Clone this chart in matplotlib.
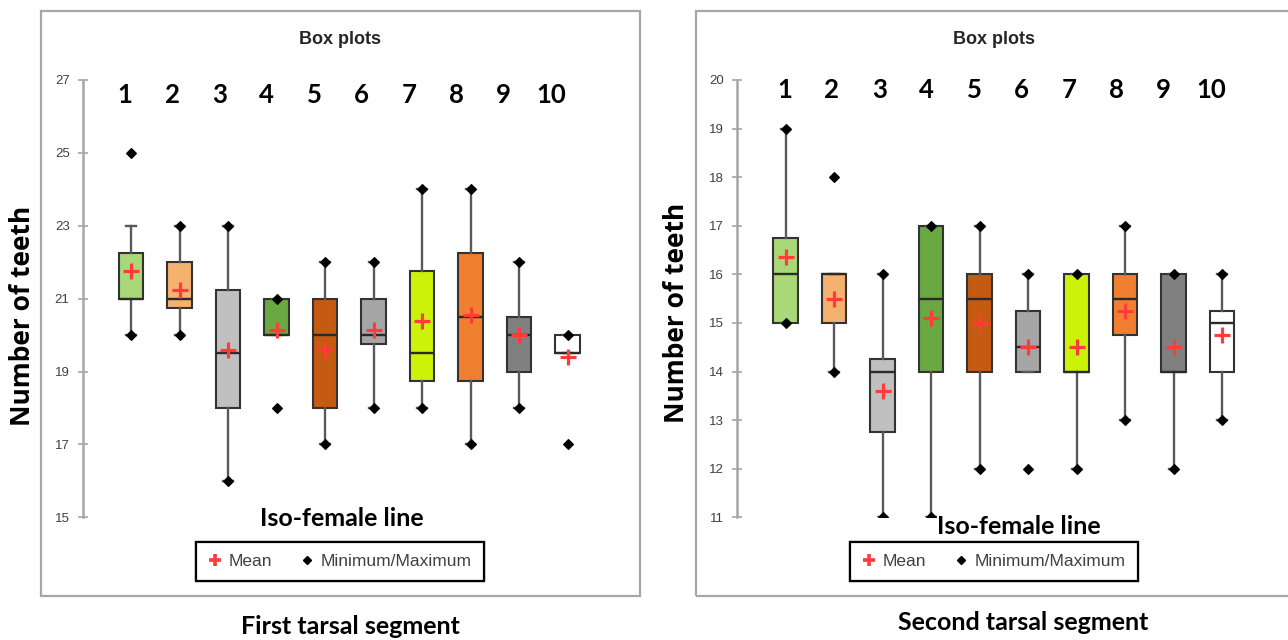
import matplotlib.pyplot as plt
from matplotlib.lines import Line2D
from matplotlib.patches import Rectangle
import matplotlib.transforms as mtransforms

# iso-female lines
lines = [1, 2, 3, 4, 5, 6, 7, 8, 9, 10]
colors = ['#a9d878', '#f5b16e', '#c0c0c0', '#6aa842', '#c55a11',
          '#a6a6a6', '#ccf20a', '#f08030', '#808080', '#ffffff']

# First tarsal segment
L_q1 = [21, 20.75, 18, 20, 18, 19.75, 18.75, 18.75, 19, 19.5]
L_med = [21, 21, 19.5, 20, 20, 20, 19.5, 20.5, 20, 19.5]
L_q3 = [22.25, 22, 21.25, 21, 21, 21, 21.75, 22.25, 20.5, 20]
L_mean = [21.75, 21.25, 19.6, 20.15, 19.6, 20.15, 20.4, 20.55, 20, 19.4]
L_whislo = [20, 20, 16, 20, 17, 18, 18, 17, 18, 19.5]
L_whishi = [23, 23, 23, 21, 22, 22, 24, 24, 22, 20]
L_min = [20, 20, 16, 18, 17, 18, 18, 17, 18, 17]
L_max = [25, 23, 23, 21, 22, 22, 24, 24, 22, 20]
L_ticks = [15, 17, 19, 21, 23, 25, 27]

# Second tarsal segment
R_q1 = [15, 15, 12.75, 14, 14, 14, 14, 14.75, 14, 14]
R_med = [16, 16, 14, 15.5, 15.5, 14.5, 14, 15.5, 14, 15]
R_q3 = [16.75, 16, 14.25, 17, 16, 15.25, 16, 16, 16, 15.25]
R_mean = [16.35, 15.5, 13.6, 15.1, 15.0, 14.5, 14.5, 15.25, 14.5, 14.75]
R_whislo = [15, 14, 11, 11, 12, 14, 12, 13, 12, 13]
R_whishi = [19, 16, 16, 17, 17, 16, 16, 17, 16, 16]
R_min = [15, 14, 11, 11, 12, 12, 12, 13, 12, 13]
R_max = [19, 18, 16, 17, 17, 16, 16, 17, 16, 16]
R_ticks = [11, 12, 13, 14, 15, 16, 17, 18, 19, 20]

ARIAL = ['Liberation Sans', 'DejaVu Sans']
CALIBRI = ['Lato', 'DejaVu Sans']
W, H = 1288, 640
UNIT = 48.5  # px per category

fig = plt.figure(figsize=(12.88, 6.4), dpi=100)


def fx(px):
    return px / W


def fy(py):
    return 1 - py / H


def panel(left_px, q1, med, q3, mean, wlo, whi, mn, mx, ticks,
          num_start, num_step, num_y):
    ax = fig.add_axes([fx(left_px), fy(517.3), fx(UNIT * 11.5), (517.3 - 80) / H])
    stats = []
    for i in range(len(lines)):
        stats.append(dict(q1=q1[i], med=med[i], q3=q3[i], mean=mean[i],
                          whislo=wlo[i], whishi=whi[i], fliers=[]))
    bp = ax.bxp(stats, positions=lines, widths=0.5, patch_artist=True,
                showmeans=True, showfliers=False, capwidths=0.2,
                boxprops=dict(edgecolor='#333333', linewidth=1.5),
                medianprops=dict(color='#2a2a2a', linewidth=1.7),
                whiskerprops=dict(color='#595959', linewidth=1.7),
                capprops=dict(color='#595959', linewidth=1.7),
                meanprops=dict(marker='+', markeredgecolor='#ff3b3b',
                               markersize=12, markeredgewidth=2.3))
    for patch, c in zip(bp['boxes'], colors):
        patch.set_facecolor(c)
    ax.scatter(lines, mn, marker='D', s=24, color='black', zorder=4)
    ax.scatter(lines, mx, marker='D', s=24, color='black', zorder=4)

    ax.set_xlim(0, 11.5)
    ax.set_ylim(ticks[0], ticks[-1])
    ax.set_yticks(ticks)
    ax.set_xticks([])
    for s in ['top', 'right', 'bottom']:
        ax.spines[s].set_visible(False)
    ax.spines['left'].set_color('#a6a6a6')
    ax.spines['left'].set_linewidth(1.8)
    ax.tick_params(axis='y', direction='inout', length=7.5, width=1.2,
                   color='#a6a6a6', labelsize=9.5, labelcolor='#404040', pad=5.5)
    for lab in ax.get_yticklabels():
        lab.set_family(ARIAL)
    ax.patch.set_alpha(0)

    trans = mtransforms.blended_transform_factory(ax.transData, fig.transFigure)
    for x in lines:
        ax.text(num_start + (x - 1) * num_step, fy(num_y), str(x), transform=trans,
                ha='center', va='center', fontsize=18.5, fontweight='bold',
                family=CALIBRI)
    return ax


panel(82.5, L_q1, L_med, L_q3, L_mean, L_whislo, L_whishi, L_min, L_max,
      L_ticks, 0.87, 0.977, 95)
panel(737, R_q1, R_med, R_q3, R_mean, R_whislo, R_whishi, R_min, R_max,
      R_ticks, 0.98, 0.977, 90)

# chart frames
for x0, x1 in [(40.8, 640), (696, 1296)]:
    fig.patches.append(Rectangle((fx(x0), fy(595.7)), fx(x1 - x0), (595.7 - 11) / H,
                                 transform=fig.transFigure, fill=False,
                                 edgecolor='#a6a6a6', linewidth=1.6))

handles = [Line2D([], [], marker='+', color='#ff3b3b', linestyle='none',
                  markersize=9, markeredgewidth=2.6, label='Mean'),
           Line2D([], [], marker='D', color='black', linestyle='none',
                  markersize=4, label='Minimum/Maximum')]

for tx, ix, iy, lx, bx, by, name in [
        (340, 342, 518, 340, 350, 626, 'First tarsal segment'),
        (994, 1019, 526, 994, 1023, 623, 'Second tarsal segment')]:
    fig.text(fx(tx), fy(39), 'Box plots', ha='center', va='center',
             fontsize=13, fontweight='bold', family=ARIAL, color='#262626')
    fig.text(fx(ix), fy(iy), 'Iso-female line', ha='center', va='center',
             fontsize=18, fontweight='bold', family=CALIBRI)
    fig.text(fx(bx), fy(by), name, ha='center', va='center',
             fontsize=18, fontweight='bold', family=CALIBRI)
    leg = fig.legend(handles=handles, loc='center',
                     bbox_to_anchor=(fx(lx), fy(561.3)), ncol=2,
                     frameon=True, fancybox=False, framealpha=1,
                     edgecolor='black', handlelength=0.8, handletextpad=0.4,
                     columnspacing=1.6, borderpad=0.7, borderaxespad=0,
                     prop={'family': ARIAL, 'size': 12.5})
    leg.get_frame().set_linewidth(1.6)
    for t in leg.get_texts():
        t.set_color('#404040')
    fig.add_artist(leg)

fig.text(fx(23), fy(316), 'Number of teeth', rotation=90, ha='center',
         va='center', fontsize=19, fontweight='bold', family=['Open Sans', 'DejaVu Sans'])
fig.text(fx(677), fy(313), 'Number of teeth', rotation=90, ha='center',
         va='center', fontsize=19, fontweight='bold', family=['Open Sans', 'DejaVu Sans'])

fig.savefig('out.png', dpi=100)
